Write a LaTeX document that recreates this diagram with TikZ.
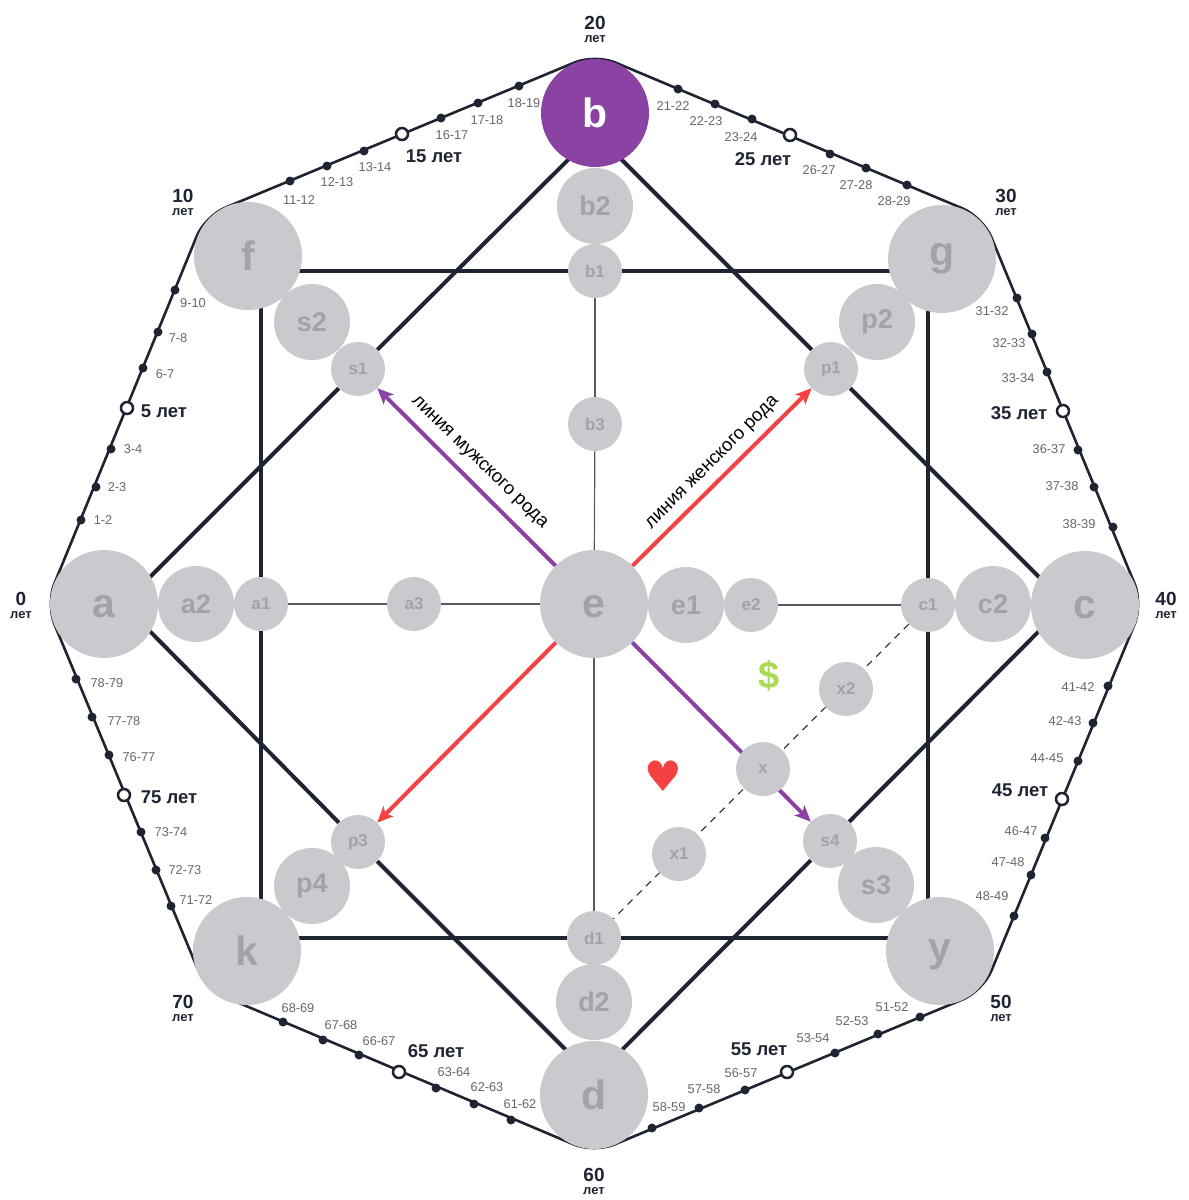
\documentclass[tikz,border=0pt]{standalone}
\usepackage{fontspec}
\usepackage{xcolor}
\usepackage{tikz}
\usetikzlibrary{arrows.meta,backgrounds}
\setmainfont{Liberation Sans}
\newfontfamily\symbfont{DejaVu Sans}
\definecolor{darkline}{HTML}{1F2433}
\definecolor{disc}{HTML}{C9C9CE}
\definecolor{discletter}{HTML}{A2A2A7}
\definecolor{agetext}{HTML}{66666C}
\definecolor{violet}{HTML}{8A43A2}
\definecolor{scarlet}{HTML}{F44141}
\definecolor{dollar}{HTML}{A8DA52}
\tikzset{
  bigdisc/.style={circle, fill=disc, text=discletter, minimum size=108pt, inner sep=0pt, font=\bfseries\fontsize{41}{41}\selectfont},
  middisc/.style={circle, fill=disc, text=discletter, minimum size=76pt, inner sep=0pt, font=\bfseries\fontsize{27}{27}\selectfont},
  smalldisc/.style={circle, fill=disc, text=discletter, minimum size=54pt, inner sep=0pt, font=\bfseries\fontsize{17}{17}\selectfont},
  tick/.style={circle, fill=darkline, minimum size=9pt, inner sep=0pt},
  ring/.style={circle, draw=darkline, line width=2.5pt, fill=white, minimum size=12pt, inner sep=0pt},
  agelabel/.style={text=agetext, font=\fontsize{12.8}{14}\selectfont},
  fivelabel/.style={text=darkline, font=\bfseries\fontsize{18.5}{20}\selectfont},
  tenlabel/.style={text=darkline, font=\bfseries\fontsize{19}{20}\selectfont},
  letlabel/.style={text=darkline, font=\bfseries\fontsize{13}{14}\selectfont},
  thickline/.style={darkline, line width=4pt},
  thinline/.style={darkline!75, line width=1.2pt},
  rodlabel/.style={text=black, font=\fontsize{18.5}{20}\selectfont}
}
\begin{document}
\begin{tikzpicture}[x=1pt, y=-1pt]
 \useasboundingbox (0, 0) rectangle (1189, 1200);
 % large discs
 \draw (104, 604) node[bigdisc, text height=28pt] (a) {a};
 \draw (595, 113) node[bigdisc, fill=violet, text=white] (b) {b};
 \draw (1085, 605) node[bigdisc, text height=28pt] (c) {c};
 \draw (594, 1095) node[bigdisc] (d) {d};
 \draw (594, 604) node[bigdisc, text height=28pt] (e) {e};
 \draw (248, 256) node[bigdisc] (f) {f};
 \draw (942, 259) node[bigdisc] (g) {g};
 \draw (247, 951) node[bigdisc] (k) {k};
 \draw (940, 951) node[bigdisc, text depth=0pt] (y) {y};
 % medium discs
 \draw (196, 604) node[middisc] (a2) {a2};
 \draw (595, 206) node[middisc] (b2) {b2};
 \draw (993, 604) node[middisc] (c2) {c2};
 \draw (594, 1002) node[middisc] (d2) {d2};
 \draw (686, 605) node[middisc] (e1) {e1};
 \draw (312, 322) node[middisc] (s2) {s2};
 \draw (877, 322) node[middisc] (p2) {p2};
 \draw (312, 886) node[middisc] (p4) {p4};
 \draw (876, 885) node[middisc] (s3) {s3};
 % small discs
 \draw (261, 604) node[smalldisc] (a1) {a1};
 \draw (414, 604) node[smalldisc] (a3) {a3};
 \draw (595, 271) node[smalldisc] (b1) {b1};
 \draw (595, 424) node[smalldisc] (b3) {b3};
 \draw (928, 605) node[smalldisc] (c1) {c1};
 \draw (594, 938) node[smalldisc] (d1) {d1};
 \draw (751, 605) node[smalldisc] (e2) {e2};
 \draw (358, 369) node[smalldisc] (s1) {s1};
 \draw (831, 369) node[smalldisc] (p1) {p1};
 \draw (358, 842) node[smalldisc] (p3) {p3};
 \draw (830, 841) node[smalldisc] (s4) {s4};
 \draw (763, 769) node[smalldisc] (x) {x};
 \draw (679, 854) node[smalldisc] (x1) {x1};
 \draw (846, 689) node[smalldisc] (x2) {x2};
 % octagon corners, square corners, diamond corners
 \coordinate (oa) at (46, 604);
 \coordinate (of) at (205, 216);
 \coordinate (ob) at (595, 54);
 \coordinate (og) at (983, 217);
 \coordinate (oc) at (1143, 604);
 \coordinate (oy) at (983, 991);
 \coordinate (od) at (594, 1153);
 \coordinate (ok) at (206, 989);
 \coordinate (tl) at (261, 271);
 \coordinate (tr) at (928, 271);
 \coordinate (br) at (928, 938);
 \coordinate (bl) at (261, 938);
 \coordinate (da) at (123, 604);
 \coordinate (db) at (595, 133);
 \coordinate (dc) at (1066, 604);
 \coordinate (dd) at (594, 1078);
 \begin{scope}[on background layer]
  \draw [darkline, line width=2.6pt, rounded corners=22pt] (oa) -- (of) -- (ob) -- (og) -- (oc) -- (oy) -- (od) -- (ok) -- cycle;
  \draw [thickline] (tl) -- (b1);
  \draw [thickline] (b1) -- (tr);
  \draw [thickline] (tr) -- (c1);
  \draw [thickline] (c1) -- (br);
  \draw [thickline] (br) -- (d1);
  \draw [thickline] (d1) -- (bl);
  \draw [thickline] (bl) -- (a1);
  \draw [thickline] (a1) -- (tl);
  \draw [thickline] (da) -- (s1);
  \draw [thickline] (s1) -- (db);
  \draw [thickline] (db) -- (p1);
  \draw [thickline] (p1) -- (dc);
  \draw [thickline] (dc) -- (s4);
  \draw [thickline] (s4) -- (dd);
  \draw [thickline] (dd) -- (p3);
  \draw [thickline] (p3) -- (da);
  \draw [thinline] (a1) -- (a3);
  \draw [thinline] (a3) -- (e);
  \draw [thinline] (e2) -- (c1);
  \draw [thinline] (b1) -- (b3);
  \draw [thinline] (b3) -- (e);
  \draw [thinline] (e) -- (d1);
  \draw [darkline, line width=1pt, dash pattern=on 7pt off 6pt] (c1) -- (d1);
  \draw [violet, line width=4pt, -{Stealth[length=16pt, width=14pt, inset=4pt]}] (e) -- (s1);
  \draw [violet, line width=4pt, -{Stealth[length=16pt, width=14pt, inset=4pt]}] (e) -- (s4);
  \draw [scarlet, line width=4pt, -{Stealth[length=16pt, width=14pt, inset=4pt]}] (e) -- (p1);
  \draw [scarlet, line width=4pt, -{Stealth[length=16pt, width=14pt, inset=4pt]}] (e) -- (p3);
 \end{scope}
 \draw (479, 463) node[rodlabel, rotate=-44] (rodm) {линия мужского рода};
 \draw (713, 463) node[rodlabel, rotate=45] (rodw) {линия женского рода};
 \draw (769, 676) node[text=dollar, font=\bfseries\fontsize{38}{38}\selectfont] (money) {\$};
 \draw (663, 776) node[text=scarlet, font=\symbfont\fontsize{42}{42}\selectfont] (heart) {♥};
 % round ages
 \draw (21, 599) node[tenlabel] (y0) {0};
 \draw (21, 615) node[letlabel] (l0) {лет};
 \draw (183, 196) node[tenlabel] (y10) {10};
 \draw (183, 212) node[letlabel] (l10) {лет};
 \draw (595, 23) node[tenlabel] (y20) {20};
 \draw (595, 39) node[letlabel] (l20) {лет};
 \draw (1006, 196) node[tenlabel] (y30) {30};
 \draw (1006, 212) node[letlabel] (l30) {лет};
 \draw (1166, 599) node[tenlabel] (y40) {40};
 \draw (1166, 615) node[letlabel] (l40) {лет};
 \draw (1001, 1002) node[tenlabel] (y50) {50};
 \draw (1001, 1018) node[letlabel] (l50) {лет};
 \draw (594, 1175) node[tenlabel] (y60) {60};
 \draw (594, 1191) node[letlabel] (l60) {лет};
 \draw (183, 1002) node[tenlabel] (y70) {70};
 \draw (183, 1018) node[letlabel] (l70) {лет};
 % rings
 \draw (127, 408) node[ring] (r5) {};
 \draw (402, 134) node[ring] (r15) {};
 \draw (790, 135) node[ring] (r25) {};
 \draw (1063, 411) node[ring] (r35) {};
 \draw (1062, 799) node[ring] (r45) {};
 \draw (787, 1072) node[ring] (r55) {};
 \draw (399, 1072) node[ring] (r65) {};
 \draw (124, 795) node[ring] (r75) {};
 \draw (164, 411) node[fivelabel] (n5) {5 лет};
 \draw (434, 156) node[fivelabel] (n15) {15 лет};
 \draw (763, 159) node[fivelabel] (n25) {25 лет};
 \draw (1019, 413) node[fivelabel] (n35) {35 лет};
 \draw (1020, 790) node[fivelabel] (n45) {45 лет};
 \draw (759, 1049) node[fivelabel] (n55) {55 лет};
 \draw (436, 1051) node[fivelabel] (n65) {65 лет};
 \draw (169, 797) node[fivelabel] (n75) {75 лет};
 % ticks, left upper side
 \draw (81, 520) node[tick] (t1) {};
 \draw (96, 487) node[tick] (t2) {};
 \draw (111, 449) node[tick] (t3) {};
 \draw (143, 368) node[tick] (t6) {};
 \draw (158, 332) node[tick] (t7) {};
 \draw (175, 290) node[tick] (t9) {};
 \draw (103, 520) node[agelabel] (a1a) {1-2};
 \draw (117, 487) node[agelabel] (a2a) {2-3};
 \draw (133, 449) node[agelabel] (a3a) {3-4};
 \draw (165, 374) node[agelabel] (a6a) {6-7};
 \draw (178, 338) node[agelabel] (a7a) {7-8};
 \draw (193, 303) node[agelabel] (a9a) {9-10};
 % ticks, top left side
 \draw (290, 181) node[tick] (t11) {};
 \draw (327, 166) node[tick] (t12) {};
 \draw (364, 151) node[tick] (t13) {};
 \draw (441, 118) node[tick] (t16) {};
 \draw (478, 103) node[tick] (t17) {};
 \draw (519, 86) node[tick] (t18) {};
 \draw (299, 200) node[agelabel] (a11) {11-12};
 \draw (337, 182) node[agelabel] (a12) {12-13};
 \draw (375, 167) node[agelabel] (a13) {13-14};
 \draw (452, 135) node[agelabel] (a16) {16-17};
 \draw (487, 120) node[agelabel] (a17) {17-18};
 \draw (524, 103) node[agelabel] (a18) {18-19};
 % ticks, top right side
 \draw (678, 89) node[tick] (t21) {};
 \draw (715, 104) node[tick] (t22) {};
 \draw (752, 119) node[tick] (t23) {};
 \draw (830, 154) node[tick] (t26) {};
 \draw (866, 168) node[tick] (t27) {};
 \draw (907, 185) node[tick] (t28) {};
 \draw (673, 106) node[agelabel] (a21) {21-22};
 \draw (706, 121) node[agelabel] (a22) {22-23};
 \draw (741, 137) node[agelabel] (a23) {23-24};
 \draw (819, 170) node[agelabel] (a26) {26-27};
 \draw (856, 185) node[agelabel] (a27) {27-28};
 \draw (894, 201) node[agelabel] (a28) {28-29};
 % ticks, right upper side
 \draw (1017, 298) node[tick] (t31) {};
 \draw (1032, 334) node[tick] (t32) {};
 \draw (1047, 372) node[tick] (t33) {};
 \draw (1078, 450) node[tick] (t36) {};
 \draw (1094, 487) node[tick] (t37) {};
 \draw (1113, 527) node[tick] (t38) {};
 \draw (992, 311) node[agelabel] (a31) {31-32};
 \draw (1009, 343) node[agelabel] (a32) {32-33};
 \draw (1018, 378) node[agelabel] (a33) {33-34};
 \draw (1049, 449) node[agelabel] (a36) {36-37};
 \draw (1062, 486) node[agelabel] (a37) {37-38};
 \draw (1079, 524) node[agelabel] (a38) {38-39};
 % ticks, right lower side
 \draw (1108, 686) node[tick] (t41) {};
 \draw (1093, 723) node[tick] (t42) {};
 \draw (1078, 761) node[tick] (t44) {};
 \draw (1045, 838) node[tick] (t46) {};
 \draw (1031, 875) node[tick] (t47) {};
 \draw (1014, 916) node[tick] (t48) {};
 \draw (1078, 687) node[agelabel] (a41) {41-42};
 \draw (1065, 721) node[agelabel] (a42) {42-43};
 \draw (1047, 758) node[agelabel] (a44) {44-45};
 \draw (1021, 831) node[agelabel] (a46) {46-47};
 \draw (1008, 862) node[agelabel] (a47) {47-48};
 \draw (992, 896) node[agelabel] (a48) {48-49};
 % ticks, bottom right side
 \draw (920, 1017) node[tick] (t51) {};
 \draw (878, 1034) node[tick] (t52) {};
 \draw (835, 1053) node[tick] (t53) {};
 \draw (745, 1090) node[tick] (t56) {};
 \draw (699, 1108) node[tick] (t57) {};
 \draw (652, 1128) node[tick] (t58) {};
 \draw (892, 1007) node[agelabel] (a51) {51-52};
 \draw (852, 1021) node[agelabel] (a52) {52-53};
 \draw (813, 1038) node[agelabel] (a53) {53-54};
 \draw (741, 1073) node[agelabel] (a56) {56-57};
 \draw (704, 1089) node[agelabel] (a57) {57-58};
 \draw (669, 1107) node[agelabel] (a58) {58-59};
 % ticks, bottom left side
 \draw (511, 1120) node[tick] (t61) {};
 \draw (474, 1104) node[tick] (t62) {};
 \draw (436, 1088) node[tick] (t63) {};
 \draw (359, 1055) node[tick] (t66) {};
 \draw (323, 1040) node[tick] (t67) {};
 \draw (283, 1022) node[tick] (t68) {};
 \draw (520, 1104) node[agelabel] (a61) {61-62};
 \draw (487, 1087) node[agelabel] (a62) {62-63};
 \draw (454, 1072) node[agelabel] (a63) {63-64};
 \draw (379, 1041) node[agelabel] (a66) {66-67};
 \draw (341, 1025) node[agelabel] (a67) {67-68};
 \draw (298, 1008) node[agelabel] (a68) {68-69};
 % ticks, left lower side
 \draw (171, 906) node[tick] (t71) {};
 \draw (156, 870) node[tick] (t72) {};
 \draw (141, 832) node[tick] (t73) {};
 \draw (109, 755) node[tick] (t76) {};
 \draw (92, 717) node[tick] (t77) {};
 \draw (76, 679) node[tick] (t78) {};
 \draw (196, 900) node[agelabel] (a71) {71-72};
 \draw (185, 870) node[agelabel] (a72) {72-73};
 \draw (171, 832) node[agelabel] (a73) {73-74};
 \draw (139, 757) node[agelabel] (a76) {76-77};
 \draw (124, 721) node[agelabel] (a77) {77-78};
 \draw (107, 683) node[agelabel] (a78) {78-79};
\end{tikzpicture}
\end{document}
